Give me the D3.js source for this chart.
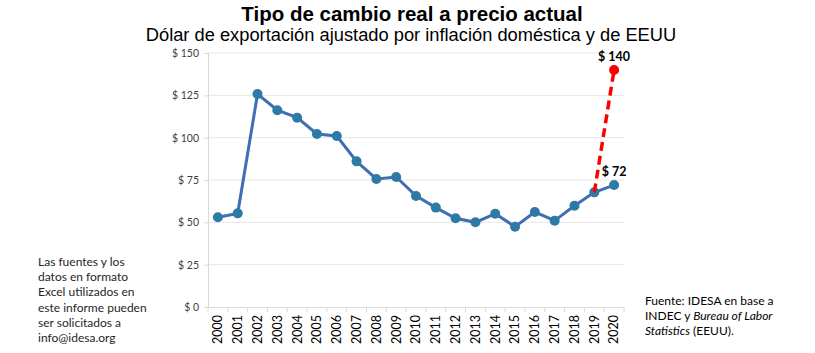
<!DOCTYPE html>
<html>
<head>
<meta charset="utf-8">
<script src="https://cdn.jsdelivr.net/npm/d3@7"></script>
<style>
  body { margin: 0; background: #fff; }
  svg text { font-family: Lato, "Open Sans", sans-serif; }
</style>
</head>
<body>
<div id="chart-area"></div>
<script>
// Data
let years = ["2000","2001","2002","2003","2004","2005","2006","2007","2008","2009","2010",
             "2011","2012","2013","2014","2015","2016","2017","2018","2019","2020"];
let tcr = [53, 55.3, 125.8, 116.2, 111.8, 102.2, 101, 86, 75.6, 76.8, 65.6,
           58.7, 52.4, 50, 55.1, 47.4, 56.1, 51, 59.8, 67.7, 72];
let projYears = ["2019", "2020"];
let projValues = [67.7, 140];
let yTicks = [0, 25, 50, 75, 100, 125, 150];

let width = 815, height = 353;
let margin = {top: 53, right: 191, bottom: 46, left: 208};
let innerW = width - margin.left - margin.right;
let innerH = height - margin.top - margin.bottom;

let svg = d3.select("#chart-area").append("svg")
    .attr("width", width)
    .attr("height", height);

// Titles
svg.append("text")
    .attr("x", 412).attr("y", 21)
    .attr("text-anchor", "middle")
    .style("font-family", "Liberation Sans, Arial, sans-serif")
    .style("font-size", "20.5px")
    .style("font-weight", "bold")
    .text("Tipo de cambio real a precio actual");

svg.append("text")
    .attr("x", 411).attr("y", 41)
    .attr("text-anchor", "middle")
    .style("font-family", "Liberation Sans, Arial, sans-serif")
    .style("font-size", "18.3px")
    .text("Dólar de exportación ajustado por inflación doméstica y de EEUU");

let g = svg.append("g")
    .attr("transform", "translate(" + margin.left + "," + margin.top + ")");

let x = d3.scaleBand().domain(years).range([0, innerW]);
let y = d3.scaleLinear().domain([0, 150]).range([innerH, 0]);
let cx = d => x(d) + x.bandwidth() / 2;

// Gridlines
g.selectAll(".grid").data(yTicks.slice(1)).enter()
    .append("line")
    .attr("x1", 0).attr("x2", innerW)
    .attr("y1", d => y(d)).attr("y2", d => y(d))
    .attr("stroke", "#e6e6e6").attr("stroke-width", 1);

// Y axis
let yAxis = g.append("g")
    .call(d3.axisLeft(y).tickValues(yTicks).tickSize(4).tickFormat(d => "$ " + d));
yAxis.select(".domain").attr("stroke", "#d9d9d9");
yAxis.selectAll(".tick line").attr("stroke", "#d9d9d9");
yAxis.selectAll("text")
    .attr("x", -9)
    .style("font-size", "10.5px").attr("fill", "#404040");

// X axis
let xAxis = g.append("g")
    .attr("transform", "translate(0," + innerH + ")")
    .call(d3.axisBottom(x).tickSize(0));
xAxis.select(".domain").attr("stroke", "#d9d9d9");
xAxis.selectAll("text")
    .attr("transform", "rotate(-90)")
    .attr("x", -8).attr("y", 0).attr("dy", "0.35em")
    .attr("text-anchor", "end")
    .style("font-size", "12.5px").attr("fill", "#000");
g.selectAll(".xtick").data(d3.range(years.length + 1)).enter()
    .append("line")
    .attr("x1", i => i * x.step()).attr("x2", i => i * x.step())
    .attr("y1", innerH).attr("y2", innerH + 5)
    .attr("stroke", "#d9d9d9");

// Main series
let line = d3.line().x((d, i) => cx(years[i])).y(d => y(d));
g.append("path")
    .datum(tcr)
    .attr("fill", "none")
    .attr("stroke", "#3f6fb0")
    .attr("stroke-width", 3)
    .attr("d", line);

g.selectAll(".dot").data(tcr).enter()
    .append("circle")
    .attr("cx", (d, i) => cx(years[i]))
    .attr("cy", d => y(d))
    .attr("r", 5)
    .attr("fill", "#2e7aa6");

// Projection
let projLine = d3.line().x((d, i) => cx(projYears[i])).y(d => y(d));
g.append("path")
    .datum(projValues)
    .attr("fill", "none")
    .attr("stroke", "#ff0000")
    .attr("stroke-width", 3.5)
    .attr("stroke-dasharray", "9,5")
    .attr("d", projLine);

g.append("circle")
    .attr("cx", cx("2020"))
    .attr("cy", y(projValues[1]))
    .attr("r", 5)
    .attr("fill", "#ff0000");

// Data labels
g.append("text")
    .attr("x", cx("2020")).attr("y", y(projValues[1]) - 9)
    .attr("text-anchor", "middle")
    .style("font-size", "12.5px").style("font-weight", "bold")
    .text("$ " + projValues[1]);

g.append("text")
    .attr("x", cx("2020")).attr("y", y(tcr[tcr.length - 1]) - 9)
    .attr("text-anchor", "middle")
    .style("font-size", "12.5px").style("font-weight", "bold")
    .text("$ " + tcr[tcr.length - 1]);

// Left note
let noteLines = ["Las fuentes y los", "datos en formato", "Excel utilizados en",
                 "este informe pueden", "ser solicitados a", "info@idesa.org"];
svg.append("text")
    .attr("x", 38).attr("y", 266)
    .style("font-size", "12px").attr("fill", "#262626")
    .selectAll("tspan").data(noteLines).enter()
    .append("tspan")
    .attr("x", 38)
    .attr("dy", (d, i) => i === 0 ? 0 : 15.2)
    .text(d => d);

// Source note
let src = svg.append("text")
    .attr("x", 645).attr("y", 305)
    .style("font-size", "12px").attr("fill", "#000");
src.append("tspan").attr("x", 645).text("Fuente: IDESA en base a");
src.append("tspan").attr("x", 645).attr("dy", 15).text("INDEC y ");
src.append("tspan").style("font-style", "italic").text("Bureau of Labor");
src.append("tspan").attr("x", 645).attr("dy", 15).style("font-style", "italic").text("Statistics");
src.append("tspan").text(" (EEUU).");
</script>
</body>
</html>
